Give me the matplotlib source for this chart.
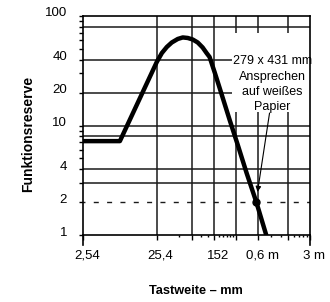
import matplotlib
matplotlib.use("Agg")
import matplotlib.pyplot as plt
import matplotlib.transforms as mtransforms
from matplotlib.patches import Rectangle
from matplotlib.ticker import FixedLocator, FixedFormatter, LogLocator, NullFormatter

plt.rcParams['font.family'] = ['Liberation Sans', 'DejaVu Sans']

# Kurve: Tastweite in mm, Funktionsreserve
tastweite_mm = [2.54, 8.1, 25.6, 30.0, 35.0, 40.9, 49.3, 57.6, 67.3, 78.6,
                91.8, 107, 121, 133, 156, 182, 248, 322, 422, 571, 778]
reserve = [7.2, 7.2, 38.0, 45.9, 52.1, 57.3, 61.7, 63.7, 63.0, 61.0,
           57.3, 51.6, 45.9, 42.2, 30.5, 22.0, 11.3, 6.57, 3.68, 2.0, 1.0]

# Achsen
x_major = [2.54, 25.4, 76.2, 152.4, 304.8, 609.6, 1524, 3048]
x_labels = ["2,54", "25,4", "", "152", "", "0,6 m", "", "3 m"]
x_minor_zoll = [2, 4, 5, 7, 8, 9, 10, 11, 36, 48, 72, 84, 96, 108]
x_grid = [25.4, 76.2, 152.4, 304.8, 609.6, 1524]

y_major = [1, 2, 4, 10, 20, 40, 100]
y_labels = ["1", "2", "4", "10", "20", "40", "100"]
y_grid = [3, 4, 8, 10, 20, 40, 80]
schwelle = 2

punkt_x, punkt_y = 571, 2.0
pfeil_von = (863, 13)
pfeil_bis = (593, 2.47)
notiz = "279 x 431 mm\nAnsprechen\nauf weißes\nPapier"
notiz_pos = (947, 23.7)

fig = plt.figure(figsize=(3.3, 3.02), dpi=100)
ax = fig.add_axes([82.7 / 330, 67 / 302, 227.3 / 330, 219 / 302])
ax.set_xscale('log')
ax.set_yscale('log')
ax.set_xlim(2.54, 3048)
ax.set_ylim(1, 100)

for v in x_grid:
    ax.axvline(v, color='#1a1a1a', lw=1.1, zorder=1)
for h in y_grid:
    ax.axhline(h, color='#1a1a1a', lw=1.1, zorder=1)
ax.axhline(schwelle, color='#1a1a1a', lw=1.0, ls=(2.2, (3.6, 6)), zorder=1)

# weisser Hintergrund der Notiz
ax.add_patch(Rectangle((264, 13.3), 3048 - 264, 70 - 13.3,
                       facecolor='white', edgecolor='none', zorder=2))

ax.plot(tastweite_mm, reserve, color='black', lw=3.2, zorder=5,
        solid_joinstyle='round')
ax.plot(punkt_x, punkt_y, 'o', color='black', ms=5, zorder=6)
ax.annotate('', xy=pfeil_bis, xytext=pfeil_von,
            arrowprops=dict(arrowstyle='-|>', lw=0.8, color='black',
                            mutation_scale=8, shrinkA=0, shrinkB=0),
            zorder=6)
ax.text(notiz_pos[0], notiz_pos[1], notiz, ha='center', va='center',
        fontsize=9, linespacing=1.37, zorder=6)

for s in ax.spines.values():
    s.set_linewidth(1.2)
    s.set_color('black')
for xs in (0, 1):
    ax.plot([xs, xs], [0, -10 / 219], transform=ax.transAxes,
            color='black', lw=1.2, clip_on=False)

ax.xaxis.set_major_locator(FixedLocator(x_major))
ax.xaxis.set_major_formatter(FixedFormatter(x_labels))
ax.xaxis.set_minor_locator(FixedLocator([z * 25.4 for z in x_minor_zoll]))
ax.xaxis.set_minor_formatter(NullFormatter())
ax.yaxis.set_major_locator(FixedLocator(y_major))
ax.yaxis.set_major_formatter(FixedFormatter(y_labels))
ax.yaxis.set_minor_locator(LogLocator(base=10, subs=range(2, 10)))
ax.yaxis.set_minor_formatter(NullFormatter())

ax.tick_params(axis='x', which='major', direction='out', length=3.6,
               width=1.0, pad=7, labelsize=9.5)
ax.tick_params(axis='x', which='minor', direction='out', length=1.5,
               width=1.0)
ax.tick_params(axis='y', which='both', direction='out', length=3.2,
               width=1.0, pad=8, labelsize=9.5)

dx = mtransforms.ScaledTranslation(4 / 100, 0, fig.dpi_scale_trans)
for lab in ax.get_xticklabels():
    lab.set_transform(lab.get_transform() + dx)
dy = mtransforms.ScaledTranslation(0, 4 / 100, fig.dpi_scale_trans)
for lab in ax.get_yticklabels():
    lab.set_transform(lab.get_transform() + dy)

ax.set_xlabel("Tastweite – mm", fontsize=9.2, fontweight='bold', va='center')
ax.xaxis.set_label_coords(0.5, -(291 - 235) / 219)
ax.set_ylabel("Funktionsreserve", fontsize=10, fontweight='bold', va='center')
ax.yaxis.set_label_coords(-(82.7 - 28) / 227.3, (235 - 134) / 219)

fig.savefig("out.png", dpi=100)
